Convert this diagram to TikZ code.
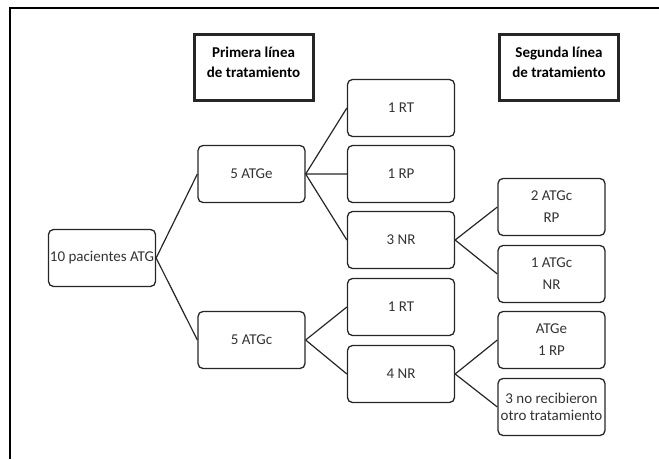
\documentclass[tikz,border=0pt]{standalone}
\usepackage{fontspec}
\setmainfont{Carlito}
\begin{document}
\begin{tikzpicture}[x=1pt,y=-1pt,
  box/.style={draw=black!85,line width=1.3pt,rounded corners=5pt,minimum width=107pt,minimum height=57pt,align=center,text=black!80,inner sep=1pt,font=\fontsize{15}{17}\selectfont},
  head/.style={draw=black!85,line width=3pt,minimum width=119pt,minimum height=66pt},
  headtxt/.style={align=center,inner sep=0pt,font=\bfseries\fontsize{15}{20}\selectfont},
  link/.style={draw=black!85,line width=1.2pt}]
\useasboundingbox(0,0)rectangle(659,459);
\draw[line width=2.5pt](10,459)--(10,8)--(659,8);
\node[head](h1)at(253.5,67.5){};\node[headtxt](t1)at(253.5,62){Primera línea\\de tratamiento};
\node[head](h2)at(559,67.5){};\node[headtxt](t2)at(559,62){Segunda línea\\de tratamiento};
\node[box](p10)at(102,258){10 pacientes ATG};
\node[box](e5)at(251.5,174){5 ATGe};\node[box](c5)at(251.5,340){5 ATGc};
\node[box](rt1)at(401,108){1 RT};\node[box](rp1)at(401,174){1 RP};\node[box](nr3)at(401,240){3 NR};
\node[box](rt2)at(401,307){1 RT};\node[box](nr4)at(401,374){4 NR};
\node[box](c2)at(551.5,207){2 ATGc\\[5pt]RP};\node[box](c1)at(551.5,274){1 ATGc\\[5pt]NR};
\node[box](e1)at(551.5,340){ATGe\\[5pt]1 RP};\node[box](no3)at(551.5,407){3 no recibieron\\otro tratamiento};
\draw[link](p10.east)--(e5.west)(p10.east)--(c5.west);
\draw[link](e5.east)--(rt1.west)(e5.east)--(rp1.west)(e5.east)--(nr3.west);
\draw[link](c5.east)--(rt2.west)(c5.east)--(nr4.west);
\draw[link](nr3.east)--(c2.west)(nr3.east)--(c1.west);
\draw[link](nr4.east)--(e1.west)(nr4.east)--(no3.west);
\end{tikzpicture}
\end{document}
